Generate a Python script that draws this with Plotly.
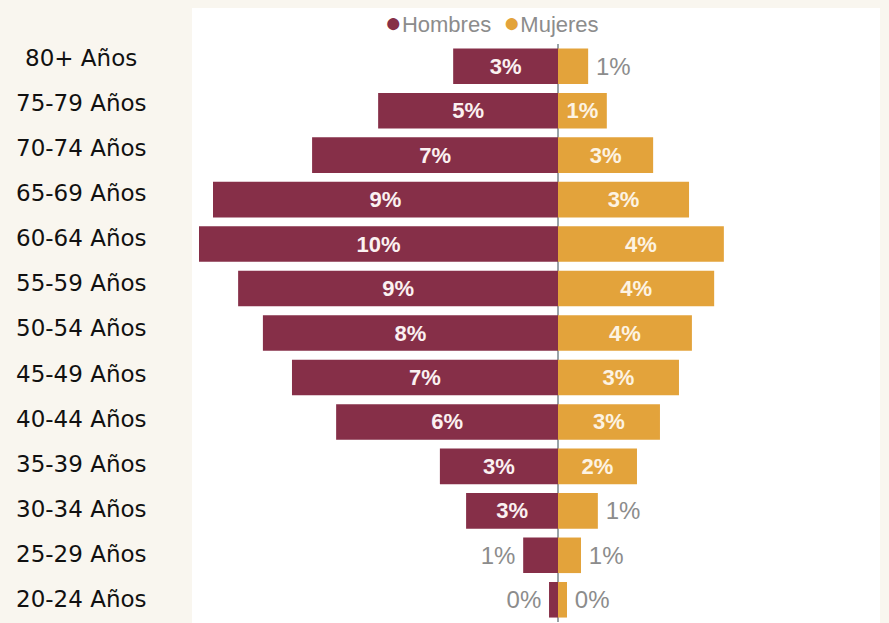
import plotly.graph_objects as go

# ---- data (top to bottom) ----
age_groups = ["80+ Años", "75-79 Años", "70-74 Años", "65-69 Años", "60-64 Años",
              "55-59 Años", "50-54 Años", "45-49 Años", "40-44 Años", "35-39 Años",
              "30-34 Años", "25-29 Años", "20-24 Años"]
hombres = [2.92, 5.01, 6.85, 9.61, 10.0, 8.91, 8.22, 7.41, 6.18, 3.29, 2.56, 0.97, 0.25]
mujeres = [0.84, 1.36, 2.65, 3.65, 4.62, 4.35, 3.73, 3.37, 2.84, 2.20, 1.11, 0.64, 0.25]
hombres_labels = ["3%", "5%", "7%", "9%", "10%", "9%", "8%", "7%", "6%", "3%", "3%", "1%", "0%"]
mujeres_labels = ["1%", "1%", "3%", "3%", "4%", "4%", "4%", "3%", "3%", "2%", "1%", "1%", "0%"]

MAROON = "#862f48"
ORANGE = "#e3a33b"
GREY = "#8c8c8c"
BEIGE = "#f9f6ef"

W, H = 889, 623
ML, MR, MT, MB = 192, 9, 44, 1
PW = W - ML - MR
PH = H - MT - MB
PX_PER_UNIT = 35.9
THIN = "\u2009"

def pos(vals, min_px=45):
    return ["inside" if v * PX_PER_UNIT >= min_px else "outside" for v in vals]

def padded(labels, positions, left):
    out = []
    for lab, p in zip(labels, positions):
        if p == "outside":
            out.append(lab + THIN if left else THIN + lab)
        else:
            out.append(lab)
    return out

h_pos = pos(hombres)
m_pos = pos(mujeres)

fig = go.Figure()
fig.add_trace(go.Bar(
    y=age_groups, x=[-v for v in hombres], orientation="h", name="Hombres",
    marker=dict(color=MAROON, line=dict(width=0)),
    text=padded(hombres_labels, h_pos, True), textposition=h_pos,
    insidetextanchor="middle",
    insidetextfont=dict(family="Liberation Sans", size=22, color="#fbf1f1", weight="bold"),
    outsidetextfont=dict(family="Liberation Sans", size=24, color=GREY),
    cliponaxis=False, showlegend=False,
))
fig.add_trace(go.Bar(
    y=age_groups, x=mujeres, orientation="h", name="Mujeres",
    marker=dict(color=ORANGE, line=dict(width=0)),
    text=padded(mujeres_labels, m_pos, False), textposition=m_pos,
    insidetextanchor="middle",
    insidetextfont=dict(family="Liberation Sans", size=22, color="#fdf3e3", weight="bold"),
    outsidetextfont=dict(family="Liberation Sans", size=24, color=GREY),
    cliponaxis=False, showlegend=False,
))

x_left = -(558 - ML) / PX_PER_UNIT
x_right = (880 - 558) / PX_PER_UNIT

annotations = []
# age labels in the beige strip
for i, lab in enumerate(age_groups):
    py = 58 + i * 45.08
    annotations.append(dict(
        text=lab, xref="paper", yref="paper",
        x=(81 - ML) / PW, y=(H - MB - py) / PH,
        xanchor="center", yanchor="middle", showarrow=False,
        font=dict(family="DejaVu Sans", size=23, color="#111111"),
    ))
# legend
annotations.append(dict(
    text=(f'<span style="color:{MAROON};font-size:28px">●</span>Hombres  '
          f'<span style="color:{ORANGE};font-size:28px">●</span>Mujeres'),
    xref="paper", yref="paper",
    x=(492 - ML) / PW, y=(H - MB - 22) / PH,
    xanchor="center", yanchor="middle", showarrow=False,
    font=dict(family="Liberation Sans", size=22, color=GREY),
))

fig.update_layout(
    width=W, height=H,
    margin=dict(l=ML, r=MR, t=MT, b=MB, pad=0),
    paper_bgcolor=BEIGE, plot_bgcolor="white",
    barmode="overlay", bargap=0.2,
    xaxis=dict(range=[x_left, x_right], showgrid=False, showticklabels=False,
               zeroline=True, zerolinecolor="#9aa4a8", zerolinewidth=2, fixedrange=True),
    yaxis=dict(categoryorder="array", categoryarray=age_groups[::-1],
               range=[-0.5, len(age_groups) - 0.5],
               showgrid=False, showticklabels=False, zeroline=False),
    shapes=[dict(type="rect", xref="paper", yref="paper", layer="below",
                 x0=0, x1=1, y0=-0.01, y1=(H - MB - 8) / PH,
                 fillcolor="white", line=dict(width=0))],
    annotations=annotations,
)

fig.write_html("out.html", config={"displayModeBar": False},
               post_script="document.body.style.margin='0';document.body.style.background='%s';" % BEIGE)
